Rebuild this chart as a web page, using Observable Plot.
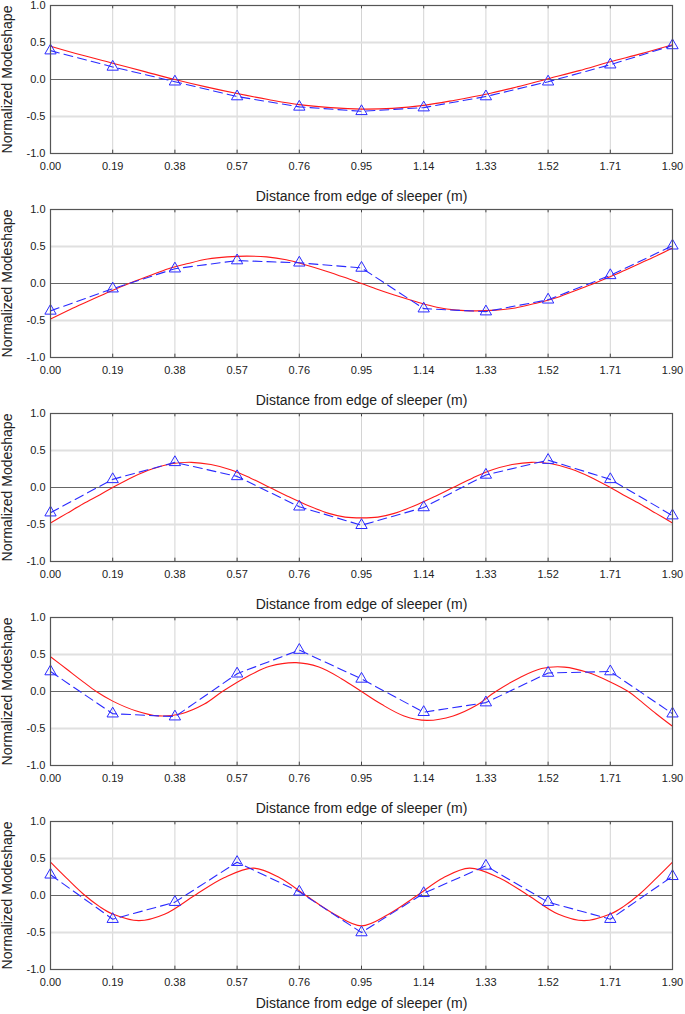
<!DOCTYPE html>
<html><head><meta charset="utf-8">
<script src="https://cdn.jsdelivr.net/npm/d3@7"></script>
<script src="https://cdn.jsdelivr.net/npm/@observablehq/plot@0.6"></script>
<style>
body{margin:0;background:#fff;font-family:"Liberation Sans",Arial,sans-serif;}
#charts svg{display:block;}
</style></head><body><div id="charts"></div>
<script>
// Measured positions (m) and tick labels
const xTicks = [0, 0.19, 0.38, 0.57, 0.76, 0.95, 1.14, 1.33, 1.52, 1.71, 1.90];
const yTicks = [-1, -0.5, 0, 0.5, 1];

// Measured mode shapes (blue, triangles)
const meas1 = [0.39, 0.17, -0.03, -0.23, -0.37, -0.43, -0.38, -0.23, -0.03, 0.20, 0.46];
const meas2 = [-0.37, -0.07, 0.20, 0.31, 0.28, 0.21, -0.34, -0.38, -0.22, 0.11, 0.51];
const meas3 = [-0.34, 0.11, 0.34, 0.15, -0.26, -0.51, -0.27, 0.17, 0.37, 0.11, -0.38];
const meas4 = [0.27, -0.30, -0.34, 0.24, 0.56, 0.17, -0.28, -0.15, 0.25, 0.27, -0.30];
const meas5 = [0.28, -0.32, -0.09, 0.45, 0.05, -0.50, 0.03, 0.40, -0.09, -0.32, 0.26];

// Analytical mode shapes (red, read at sample positions)
const fx1 = [0, 0.095, 0.19, 0.285, 0.38, 0.475, 0.57, 0.665, 0.76, 0.855, 0.95, 1.045, 1.14, 1.235, 1.33, 1.425, 1.52, 1.615, 1.71, 1.805, 1.90];
const fy1 = [0.45, 0.33, 0.22, 0.11, 0.0, -0.10, -0.19, -0.27, -0.34, -0.38, -0.40, -0.39, -0.35, -0.28, -0.20, -0.10, 0.01, 0.12, 0.24, 0.35, 0.47];

const fx2 = [0, 0.06, 0.12, 0.18, 0.24, 0.30, 0.36, 0.42, 0.48, 0.54, 0.60, 0.66, 0.72, 0.78, 0.84, 0.90, 0.95, 1.00, 1.06, 1.12, 1.18, 1.24, 1.30, 1.36, 1.42, 1.48, 1.54, 1.60, 1.66, 1.72, 1.78, 1.84, 1.90];
const fy2 = [-0.48, -0.35, -0.23, -0.11, 0.0, 0.10, 0.20, 0.27, 0.33, 0.36, 0.37, 0.36, 0.32, 0.25, 0.17, 0.08, 0.0, -0.08, -0.17, -0.25, -0.32, -0.36, -0.37, -0.36, -0.33, -0.27, -0.20, -0.10, 0.0, 0.11, 0.23, 0.35, 0.48];

const fx3 = [0, 0.05, 0.10, 0.15, 0.19, 0.25, 0.31, 0.37, 0.43, 0.49, 0.55, 0.61, 0.67, 0.73, 0.79, 0.85, 0.90, 0.95, 1.00, 1.05, 1.11, 1.17, 1.23, 1.29, 1.35, 1.41, 1.47, 1.53, 1.59, 1.65, 1.71, 1.75, 1.80, 1.85, 1.90];
const fy3 = [-0.48, -0.35, -0.22, -0.10, 0.0, 0.14, 0.25, 0.32, 0.34, 0.31, 0.24, 0.13, 0.0, -0.13, -0.25, -0.35, -0.40, -0.41, -0.40, -0.35, -0.25, -0.13, 0.0, 0.13, 0.24, 0.31, 0.34, 0.32, 0.25, 0.14, 0.0, -0.10, -0.22, -0.35, -0.48];

const fx4 = [0, 0.05, 0.10, 0.14, 0.19, 0.26, 0.33, 0.40, 0.47, 0.525, 0.60, 0.67, 0.75, 0.82, 0.89, 0.95, 1.01, 1.08, 1.15, 1.23, 1.30, 1.36, 1.43, 1.50, 1.57, 1.64, 1.71, 1.765, 1.80, 1.85, 1.90];
const fy4 = [0.47, 0.30, 0.13, 0.0, -0.13, -0.26, -0.33, -0.30, -0.17, 0.0, 0.20, 0.34, 0.39, 0.33, 0.17, 0.0, -0.17, -0.33, -0.39, -0.33, -0.19, 0.0, 0.18, 0.31, 0.33, 0.26, 0.13, 0.0, -0.12, -0.30, -0.47];

const fx5 = [0, 0.05, 0.10, 0.15, 0.19, 0.27, 0.35, 0.44, 0.53, 0.62, 0.70, 0.78, 0.87, 0.95, 1.03, 1.12, 1.20, 1.28, 1.37, 1.46, 1.55, 1.63, 1.71, 1.75, 1.80, 1.85, 1.90];
const fy5 = [0.45, 0.23, 0.02, -0.15, -0.25, -0.34, -0.25, 0.0, 0.24, 0.37, 0.24, 0.0, -0.26, -0.41, -0.26, 0.0, 0.24, 0.37, 0.24, 0.0, -0.25, -0.34, -0.25, -0.15, 0.02, 0.23, 0.45];

const measured = [meas1, meas2, meas3, meas4, meas5];
const fitX = [fx1, fx2, fx3, fx4, fx5];
const fitY = [fy1, fy2, fy3, fy4, fy5];

const container = document.getElementById("charts");
for (let i = 0; i < 5; i++) {
  const last = i === 4;
  const mData = xTicks.map((x, j) => ({x, y: measured[i][j]}));
  const fData = fitX[i].map((x, j) => ({x, y: fitY[i][j]}));
  const chart = Plot.plot({
    width: 685,
    height: last ? 198 : 204,
    marginTop: 5,
    marginBottom: last ? 45 : 51,
    marginLeft: 50,
    marginRight: 13,
    style: {fontFamily: "'Liberation Sans', Arial, sans-serif", fontSize: "11px", color: "#222", background: "#fff"},
    x: {domain: [0, 1.9]},
    y: {domain: [-1, 1]},
    marks: [
      Plot.ruleX(xTicks, {x: d => d, stroke: "#d4d4d4", strokeWidth: 1}),
      Plot.ruleY([-0.5, 0.5], {y: d => d, stroke: "#e0e0e0", strokeWidth: 1.8}),
      Plot.ruleY([0], {stroke: "#666", strokeWidth: 1}),
      Plot.ruleX(xTicks, {x: d => d, y1: -1, y2: -0.955, stroke: "#444"}),
      Plot.ruleX(xTicks, {x: d => d, y1: 0.955, y2: 1, stroke: "#444"}),
      Plot.line(fData, {x: "x", y: "y", stroke: "#ff1a1a", strokeWidth: 1.1, curve: "catmull-rom"}),
      Plot.line(mData, {x: "x", y: "y", stroke: "#2a2aff", strokeWidth: 1.1, strokeDasharray: "9,5"}),
      Plot.dot(mData, {x: "x", y: "y", symbol: "triangle", r: 4.2, stroke: "#2a2aff", fill: "none", strokeWidth: 1}),
      Plot.frame({stroke: "#555", strokeWidth: 1.2}),
      Plot.axisX({ticks: xTicks, tickSize: 0, tickPadding: 9, tickFormat: d => d.toFixed(2), fontSize: 11,
        label: "Distance from edge of sleeper (m)", labelAnchor: "center", labelArrow: "none", labelOffset: last ? 38 : 47}),
      Plot.axisY({ticks: yTicks, tickSize: 0, tickPadding: 5, tickFormat: d => d.toFixed(1), fontSize: 11,
        label: "Normalized Modeshape", labelAnchor: "center", labelArrow: "none", labelOffset: 48})
    ]
  });
  container.appendChild(chart);
}
// enlarge axis labels
document.querySelectorAll("svg [aria-label='x-axis label'] text, svg [aria-label='y-axis label'] text").forEach(t => t.setAttribute("font-size", "14"));
</script></body></html>
